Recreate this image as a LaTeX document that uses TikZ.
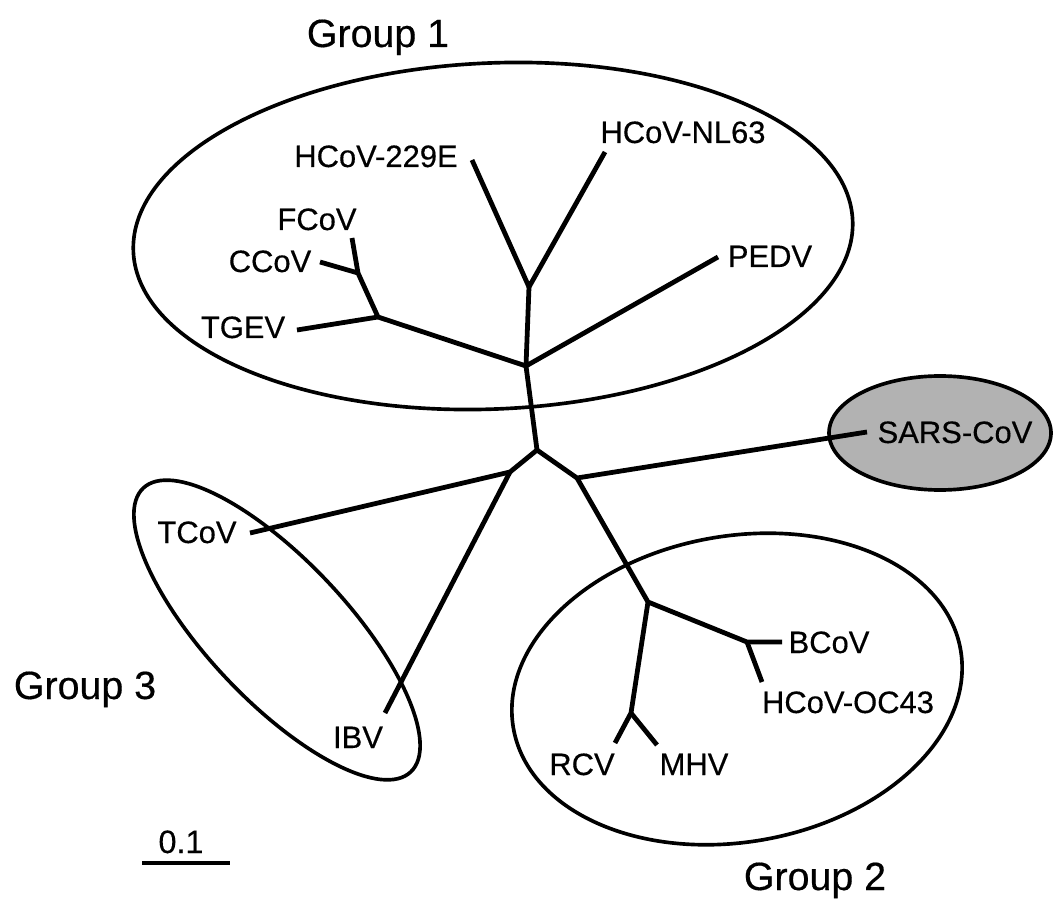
\documentclass[tikz,border=0pt]{standalone}
\usepackage{fontspec}
\setmainfont[FakeBold=0.4]{Liberation Sans}
\begin{document}
\begin{tikzpicture}[x=0.025cm,y=-0.025cm,
  branch/.style={line width=3.4pt, line join=round},
  grp/.style={line width=2.6pt},
  lbl/.style={font=\fontsize{22}{26}\selectfont, inner sep=0pt, anchor=base},
  glbl/.style={font=\fontsize{28}{32}\selectfont, inner sep=0pt, anchor=base}]
\fill[white] (0,0) rectangle (1054,899);
\useasboundingbox (0,0) rectangle (1054,899);

% group outlines
\draw[grp] (493,236) ellipse [x radius=360, y radius=173, rotate=2.5];
\draw[grp] (737,689) ellipse [x radius=227, y radius=153, rotate=10];
\draw[grp] (277,630) ellipse [x radius=195, y radius=70, rotate=-46.7];
\draw[grp, fill=black!30] (940,433) ellipse [x radius=111, y radius=57];

% labels
\node[glbl] (g1) at (378,47) {Group 1};
\node[glbl] (g2) at (815,890) {Group 2};
\node[glbl] (g3) at (85,699) {Group 3};
\node[lbl] (l229) at (376,167) {HCoV-229E};
\node[lbl] (lnl63) at (683,143) {HCoV-NL63};
\node[lbl] (lfcov) at (317,230) {FCoV};
\node[lbl] (lccov) at (270,272) {CCoV};
\node[lbl] (ltgev) at (243,338) {TGEV};
\node[lbl] (lpedv) at (770,267) {PEDV};
\node[lbl] (lsars) at (955,443) {SARS-CoV};
\node[lbl] (ltcov) at (197,543) {TCoV};
\node[lbl] (libv) at (358,748) {IBV};
\node[lbl] (lbcov) at (829,653) {BCoV};
\node[lbl] (loc43) at (848,713) {HCoV-OC43};
\node[lbl] (lrcv) at (582,775) {RCV};
\node[lbl] (lmhv) at (694,775) {MHV};
\node[font=\fontsize{23}{26}\selectfont, inner sep=0pt, anchor=base] (scale) at (181,853) {0.1};

% junctions
\coordinate (A) at (526,366);
\coordinate (B) at (529,287);
\coordinate (C) at (378,317);
\coordinate (J) at (358,273);
\coordinate (D) at (537,450);
\coordinate (E) at (510,472);
\coordinate (F) at (577,478);
\coordinate (G) at (648,602);
\coordinate (H) at (747,642);
\coordinate (I) at (631,713);
% tips
\coordinate (t229) at (472,160);
\coordinate (tnl63) at (605,152);
\coordinate (tpedv) at (718,257);
\coordinate (tfcov) at (352,238);
\coordinate (tccov) at (320,262);
\coordinate (ttgev) at (297,330);
\coordinate (ttcov) at (250,533);
\coordinate (tibv) at (385,713);
\coordinate (tsars) at (867,432);
\coordinate (tbcov) at (782,642);
\coordinate (toc43) at (762,682);
\coordinate (trcv) at (615,743);
\coordinate (tmhv) at (657,745);
\coordinate (sb1) at (142,863);
\coordinate (sb2) at (230,863);

% tree
\draw[branch] (t229) -- (B) -- (tnl63);
\draw[branch] (B) -- (A) -- (tpedv);
\draw[branch] (A) -- (C) -- (ttgev);
\draw[branch] (C) -- (J) -- (tfcov);
\draw[branch] (J) -- (tccov);
\draw[branch] (A) -- (D) -- (E) -- (ttcov);
\draw[branch] (E) -- (tibv);
\draw[branch] (D) -- (F) -- (tsars);
\draw[branch] (F) -- (G) -- (H) -- (tbcov);
\draw[branch] (H) -- (toc43);
\draw[branch] (G) -- (I) -- (trcv);
\draw[branch] (I) -- (tmhv);
\draw[line width=3pt] (sb1) -- (sb2);
\end{tikzpicture}
\end{document}
